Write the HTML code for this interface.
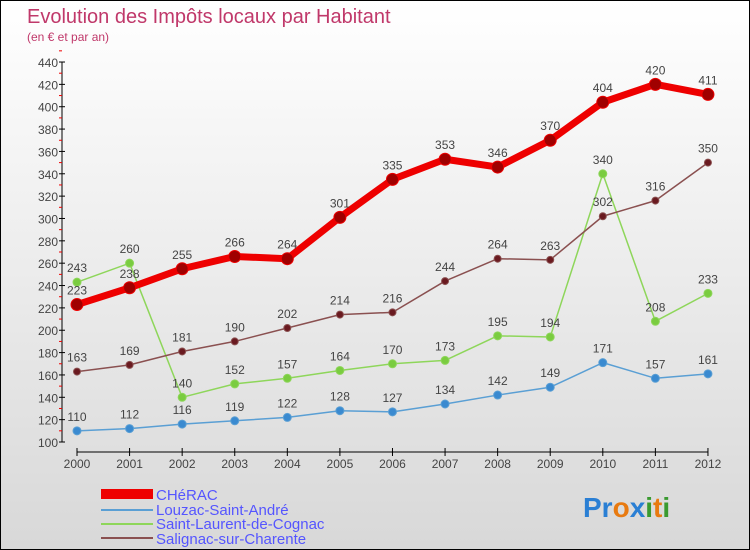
<!DOCTYPE html>
<html><head><meta charset="utf-8"><style>
body{margin:0}
#c{width:750px;height:550px;position:relative;box-sizing:border-box;border:1px solid #000;background:linear-gradient(#fff,#d8d8d8);font-family:"Liberation Sans",sans-serif;overflow:hidden}
</style></head><body>
<div id="c">
<svg width="750" height="550" style="position:absolute;left:0;top:0" id="svg">
<text x="26" y="22" font-size="20" fill="#c0386a">Evolution des Impôts locaux par Habitant</text>
<text x="26" y="40" font-size="12" fill="#c0386a">(en € et par an)</text>
<g id="axes"></g><g id="series"></g>
<g font-size="15" fill="#5555ff">
<rect x="100" y="488" width="52" height="10" fill="#e00"/>
<text x="155" y="499">CHéRAC</text>
<line x1="100" y1="509" x2="152" y2="509" stroke="#5a9fd4" stroke-width="2"/>
<text x="155" y="514">Louzac-Saint-André</text>
<line x1="100" y1="523" x2="152" y2="523" stroke="#8ed65a" stroke-width="2"/>
<text x="155" y="528">Saint-Laurent-de-Cognac</text>
<line x1="100" y1="537" x2="152" y2="537" stroke="#8a5050" stroke-width="2"/>
<text x="155" y="543">Salignac-sur-Charente</text>
</g>
<text x="582" y="516" font-size="28" font-weight="bold"><tspan fill="#2a7fd4">Pr</tspan><tspan fill="#e87a10">o</tspan><tspan fill="#2a7fd4">x</tspan><tspan fill="#3a9a30">i</tspan><tspan fill="#e87a10">t</tspan><tspan fill="#3a9a30">i</tspan></text>
</svg>
</div>
<script>
const years=[2000,2001,2002,2003,2004,2005,2006,2007,2008,2009,2010,2011,2012];
const cherac=[223,238,255,266,264,301,335,353,346,370,404,420,411];
const louzac=[110,112,116,119,122,128,127,134,142,149,171,157,161];
const saintLaurent=[243,260,140,152,157,164,170,173,195,194,340,208,233];
const salignac=[163,169,181,190,202,214,216,244,264,263,302,316,350];
const yTicks=[100,120,140,160,180,200,220,240,260,280,300,320,340,360,380,400,420,440];
const NS="http://www.w3.org/2000/svg";
const X=i=>76+i*52.58, Y=v=>441-(v-100)*1.1176;
function mk(t,a,p){const e=document.createElementNS(NS,t);for(const k in a)e.setAttribute(k,a[k]);p.appendChild(e);return e;}
const ax=document.getElementById('axes'), sr=document.getElementById('series');
let e=mk('line',{x1:61,y1:Y(440),x2:61,y2:Y(100),stroke:'#000'},ax);


yTicks.forEach(v=>{mk('line',{x1:58,x2:64,y1:Y(v),y2:Y(v),stroke:'#000'},ax);
mk('line',{x1:58,x2:61,y1:Y(v+10),y2:Y(v+10),stroke:'#e00'},ax);
const t=mk('text',{x:57,y:Y(v)+5,'text-anchor':'end','font-size':12,fill:'#444'},ax);t.textContent=v;

});
e=mk('line',{x1:X(0),y1:451,x2:X(12),y2:451,stroke:'#000'},ax);


years.forEach((y,i)=>{mk('line',{x1:X(i),x2:X(i),y1:447,y2:455,stroke:'#000'},ax);
const t=mk('text',{x:X(i),y:467,'text-anchor':'middle','font-size':12,fill:'#444'},ax);t.textContent=y;

});
function series(d,color,dot,w,r,name){
const g=mk('g',{},sr);


mk('polyline',{points:d.map((v,i)=>X(i)+','+Y(v)).join(' '),fill:'none',stroke:color,'stroke-width':w,'stroke-linejoin':'round'},g);
d.forEach((v,i)=>{const c=mk('circle',{cx:X(i),cy:Y(v),r:r,fill:dot,stroke:color,'stroke-width':1},g);


const t=mk('text',{x:X(i),y:Y(v)-10,'text-anchor':'middle','font-size':12,fill:'#444'},g);t.textContent=v;

});}
series(louzac,'#5a9fd4','#3a8ad0',1.5,4,'series-louzac');
series(saintLaurent,'#8ed65a','#7acc40',1.5,4,'series-saint-laurent');
series(salignac,'#8a5050','#6a1a20',1.5,3.5,'series-salignac');
series(cherac,'#ee0000','#a00000',7,6,'series-cherac');
</script>
</body></html>
